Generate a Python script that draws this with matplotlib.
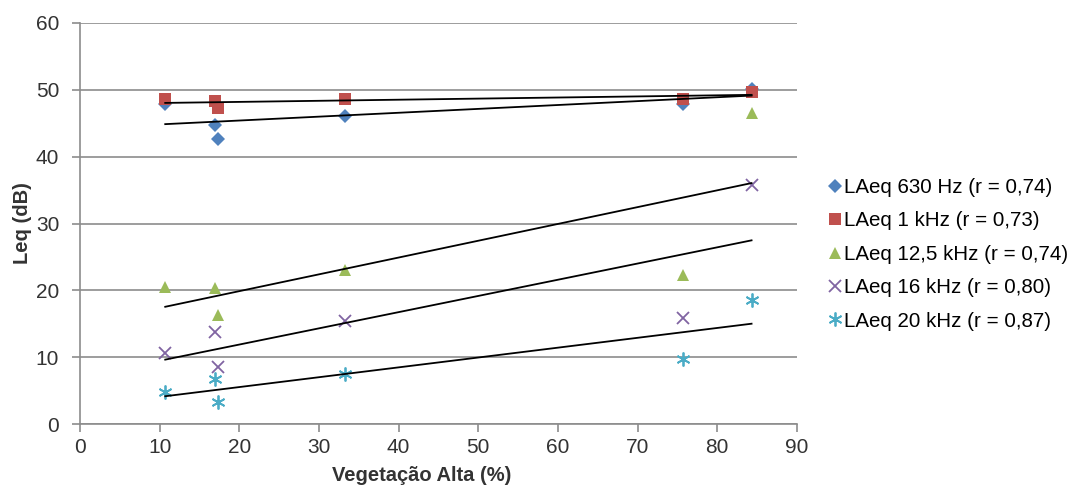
import numpy as np
import matplotlib.pyplot as plt

plt.rcParams['font.family'] = ['Liberation Sans', 'DejaVu Sans']

# vegetacao alta (%)
veg = [10.7, 16.9, 17.3, 33.3, 75.7, 84.3]

laeq_630 = [47.9, 44.7, 42.6, 46.1, 47.9, 50.1]
laeq_1k = [48.6, 48.3, 47.3, 48.6, 48.6, 49.7]
laeq_12k5 = [20.5, 20.4, 16.3, 23.0, 22.3, 46.5]
laeq_16k = [10.6, 13.8, 8.5, 15.4, 15.9, 35.8]
laeq_20k = [4.8, 6.7, 3.3, 7.5, 9.7, 18.6]

labels = ["LAeq 630 Hz (r = 0,74)", "LAeq 1 kHz (r = 0,73)",
          "LAeq 12,5 kHz (r = 0,74)", "LAeq 16 kHz (r = 0,80)",
          "LAeq 20 kHz (r = 0,87)"]
series = [laeq_630, laeq_1k, laeq_12k5, laeq_16k, laeq_20k]
colors = ['#4F81BD', '#C0504D', '#9BBB59', '#8064A2', '#4BACC6']
markers = ['D', 's', '^', 'x', (6, 2, 0)]
sizes = [7, 9, 9, 9, 10]

fig = plt.figure(figsize=(10.78, 4.88), dpi=100)
ax = fig.add_axes([0.0742, 0.1311, 0.6651, 0.8218])

x = np.array(veg)
for y, c, m, s, lab in zip(series, colors, markers, sizes, labels):
    if m == 'x' or isinstance(m, tuple):
        ax.plot(x, y, linestyle='none', marker=m, color=c, markersize=s,
                markeredgewidth=1.3, label=lab, zorder=3)
    else:
        ax.plot(x, y, linestyle='none', marker=m, color=c, markersize=s,
                markeredgewidth=0, label=lab, zorder=3)
    # linha de tendencia
    p = np.polyfit(x, y, 1)
    xs = np.array([x.min(), x.max()])
    ax.plot(xs, np.polyval(p, xs), color='black', lw=1.3, zorder=4)

ax.set_xlim(0, 90)
ax.set_ylim(0, 60)
ax.set_xticks(np.arange(0, 91, 10))
ax.set_yticks(np.arange(0, 61, 10))
ax.yaxis.grid(True, color='#8c8c8c', lw=1.2)
ax.set_axisbelow(True)
for sp in ['top', 'right']:
    ax.spines[sp].set_visible(False)
for sp in ['left', 'bottom']:
    ax.spines[sp].set_color('#8c8c8c')
    ax.spines[sp].set_linewidth(1.2)
ax.tick_params(axis='both', colors='#8c8c8c', width=1.2, length=6,
               labelsize=15, labelcolor='#333333')
ax.tick_params(axis='y', pad=9)
ax.tick_params(axis='x', pad=4)
ax.set_xlabel("Vegetação Alta (%)", fontsize=14.5, fontweight='bold',
              color='#333333')
ax.set_ylabel("Leq (dB)", fontsize=14.5, fontweight='bold',
              color='#333333')
ax.xaxis.set_label_coords(0.477, -0.105)
ax.yaxis.set_label_coords(-0.067, 0.5)

fig.legend(loc='center left', bbox_to_anchor=(0.7585, 0.479), frameon=False,
           fontsize=14.8, handlelength=0.7, handletextpad=0.1,
           labelspacing=0.7, borderpad=0, markerscale=1.0)

plt.savefig('out.png', dpi=100)
